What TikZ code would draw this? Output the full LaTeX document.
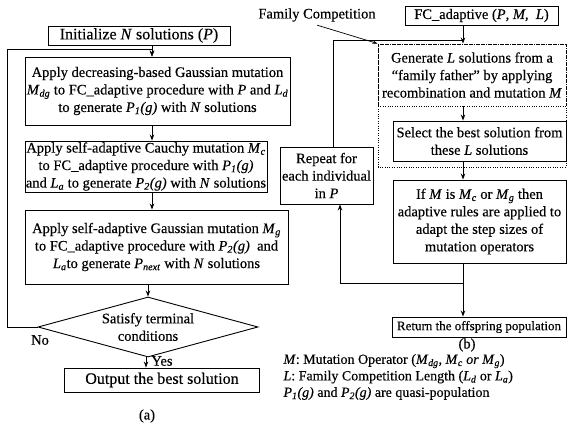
\documentclass[tikz,border=0pt]{standalone}
\usepackage{fontspec}
\setmainfont{Liberation Serif}[FakeBold=0.35]
\usetikzlibrary{arrows.meta,shapes.geometric,calc}
\newcommand\vs[2]{\textit{#1}\textsubscript{\textit{#2}}}
\newcommand\pg[1]{\textit{P}\textsubscript{\textit{#1}}\textit{(g)}}
\begin{document}
\begin{tikzpicture}[x=1pt,y=-1pt,
  every node/.style={font=\fontsize{14.5}{17.5}\selectfont},
  box/.style={draw,line width=0.9pt,align=center,inner sep=0pt},
  dotbox/.style={box,dash pattern=on 0.8pt off 1.6pt},
  arr/.style={-{Stealth[length=6pt,width=4.5pt]},line width=0.9pt},
  ln/.style={line width=0.9pt},
  big/.style={font=\fontsize{16}{18}\selectfont}]
\useasboundingbox (0,0) rectangle (568,433);
% ---------- (a) ----------
\node[box,big,minimum width=182pt,minimum height=19pt] (init) at (139,35.5) {Initialize \textit{N} solutions (\textit{P})};
\node[box,minimum width=265pt,minimum height=68pt] (box1) at (157.5,91) {Apply decreasing-based Gaussian mutation\\ \vs{M}{dg} to FC\_adaptive procedure with \textit{P} and \vs{L}{d}\\ to generate \pg{1} with \textit{N} solutions};
\node[box,minimum width=242pt,minimum height=51pt] (box2) at (146,166.5) {Apply self-adaptive Cauchy mutation \vs{M}{c}\\ to FC\_adaptive procedure with \pg{1}\\ and \vs{L}{a} to generate \pg{2} with \textit{N} solutions};
\node[box,minimum width=263pt,minimum height=74pt] (box3) at (156.5,247) {Apply self-adaptive Gaussian mutation \vs{M}{g}\\ to FC\_adaptive procedure with \pg{2}~ and\\ \vs{L}{a}to generate \vs{P}{next} with \textit{N} solutions};
\node[draw,line width=0.9pt,diamond,aspect=3.67,minimum width=220pt,minimum height=60pt,inner sep=0pt,align=center] (dec) at (148,327) {Satisfy terminal\\conditions};
\node[box,big,minimum width=195pt,minimum height=24pt] (out) at (162,380) {Output the best solution};
\node (na) at (40,340) {No};
\node (ya) at (162,361) {Yes};
\node (capa) at (147,416) {(a)};
\coordinate (ca) at (152,49);
\draw[arr] (init.south -| ca) -- (box1.north -| ca);
\draw[arr] (box1.south -| ca) -- (box2.north -| ca);
\draw[arr] (box2.south -| ca) -- (box3.north -| ca);
\draw[arr] (box3.south -| dec.north) -- (dec.north);
\coordinate (cb) at (146,0);
\draw[arr] (dec.south -| cb) -- (out.north -| cb);
\draw[arr] (dec.west) -- ++(-30,0) |- (ca) -- (box1.north -| ca);
% ---------- (b) ----------
\node (fam) at (317,15) {Family Competition};
\node[box,minimum width=153pt,minimum height=19pt] (fc) at (481.5,15.5) {FC\_adaptive (\textit{P}, \textit{M},~ \textit{L})};
\draw[line width=0.6pt,dash pattern=on 0.8pt off 1.6pt] (378,44) rectangle (566,167);
\node[dotbox,minimum width=188pt,minimum height=62pt] (gen) at (472,75) {Generate \textit{L} solutions from a\\ ``family father'' by applying\\ recombination and mutation \textit{M}};
\node[box,minimum width=173pt,minimum height=40pt] (sel) at (479.5,141) {Select the best solution from\\ these \textit{L} solutions};
\node[box,minimum width=93pt,minimum height=57pt] (rep) at (326.5,175.5) {Repeat for\\ each individual\\ in \textit{P}};
\node[box,minimum width=173pt,minimum height=83pt] (ifb) at (479.5,221.5) {If \textit{M} is \vs{M}{c} or \vs{M}{g} then\\ adaptive rules are applied to\\ adapt the step sizes of\\ mutation operators};
\node[box,minimum width=174pt,minimum height=20pt,font=\fontsize{13}{15}\selectfont] (ret) at (479,327) {Return the offspring population};
\node (capb) at (467,345) {(b)};
\node[anchor=west,align=left,font=\fontsize{14}{16.5}\selectfont] (leg) at (280,377) {\textit{M}: Mutation Operator (\vs{M}{dg}, \vs{M}{c} \textit{or} \vs{M}{g})\\ \textit{L}: Family Competition Length (\vs{L}{d} or \vs{L}{a})\\ \pg{1} and \pg{2} are quasi-population};
\coordinate (rl) at (333,40);
\coordinate (rj) at (463,40);
\coordinate (bj) at (463,283);
\coordinate (bl) at (340,283);
\draw[ln] (rep.north -| rl) -- (rl) -- (rj);
\draw[arr] (fc.south -| rj) -- (gen.north -| rj);
\draw[arr] (gen.south -| rj) -- (sel.north -| rj);
\draw[arr] (sel.south -| rj) -- (ifb.north -| rj);
\draw[ln] (ifb.south -| bj) -- (bj);
\draw[arr] (bj) -- (ret.north -| bj);
\draw[arr] (bj) -- (bl) -- (rep.south -| bl);
\draw[-{Stealth[length=5pt,width=3.5pt]},line width=0.7pt] (fam.south) -- (gen.north west);
\end{tikzpicture}
\end{document}
